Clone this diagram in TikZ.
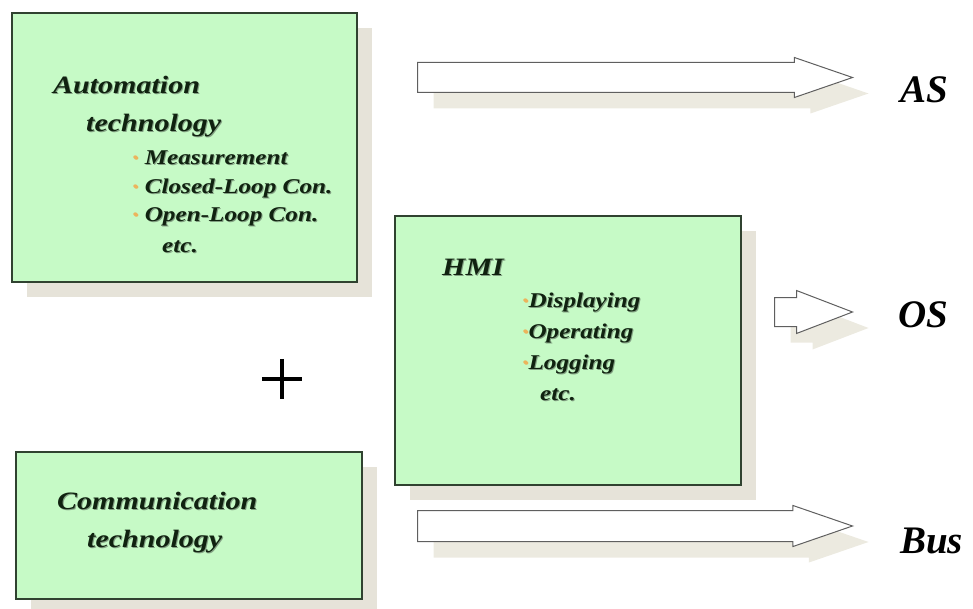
\documentclass[tikz,border=0pt]{standalone}
\usepackage{fontspec}
\setmainfont{Liberation Serif}
\newfontfamily\boxfont[FakeStretch=1.2]{Liberation Serif}
\usetikzlibrary{shapes.arrows,shadows}

\definecolor{boxfill}{RGB}{198,250,198}
\definecolor{boxline}{RGB}{48,66,48}
\definecolor{shade}{RGB}{230,227,217}
\definecolor{arrowshade}{RGB}{236,234,224}
\definecolor{arrowline}{RGB}{95,95,95}
\definecolor{ink}{RGB}{16,34,16}
\definecolor{inkshadow}{RGB}{130,160,130}
\definecolor{dot}{RGB}{236,180,92}

\newcommand{\bul}{{\color{dot}\textperiodcentered}}
% text with a soft offset shadow behind it
\newcommand{\shadowed}[1]{\rlap{\raisebox{-1pt}{\kern1pt\color{inkshadow}#1}}#1}

\tikzset{
  panel/.style={draw=boxline, line width=1.4pt, fill=boxfill, anchor=north west,
    inner sep=0pt, outer sep=0pt,
    drop shadow={shadow xshift=15pt, shadow yshift=-15pt, fill=shade, opacity=1}},
  headtext/.style={anchor=base west, inner sep=0pt, text=ink,
    font=\boxfont\bfseries\itshape\fontsize{25}{25}\selectfont},
  itemtext/.style={anchor=base west, inner sep=0pt, text=ink,
    font=\boxfont\bfseries\itshape\fontsize{21}{21}\selectfont},
  blockarrow/.style={single arrow, draw=arrowline, line width=1pt, fill=white,
    anchor=tail, inner xsep=0pt, single arrow head indent=0pt,
    drop shadow={shadow xshift=16pt, shadow yshift=-16pt, fill=arrowshade, opacity=1}},
  tag/.style={anchor=base west, inner sep=0pt, text=black,
    font=\bfseries\itshape\fontsize{39}{39}\selectfont},
}

\begin{document}
\begin{tikzpicture}[x=1pt, y=-1pt]
  \useasboundingbox (0,0) rectangle (973,609);

  % panels
  \node[panel, minimum width=345pt, minimum height=269pt] (auto) at (12,13) {};
  \node[panel, minimum width=346pt, minimum height=269pt] (hmi) at (395,216) {};
  \node[panel, minimum width=346pt, minimum height=147pt] (comm) at (16,452) {};

  % automation technology
  \node[headtext] (autoA) at (53,94) {\shadowed{Automation}};
  \node[headtext] (autoB) at (86,132) {\shadowed{technology}};
  \node[itemtext] (autoC) at (132,165) {\shadowed{\bul\ Measurement}};
  \node[itemtext] (autoD) at (132,194) {\shadowed{\bul\ Closed-Loop Con.}};
  \node[itemtext] (autoE) at (132,222) {\shadowed{\bul\ Open-Loop Con.}};
  \node[itemtext] (autoF) at (162,253) {\shadowed{etc.}};

  % human machine interface
  \node[headtext] (hmiA) at (442,276) {\shadowed{HMI}};
  \node[itemtext] (hmiB) at (522,307) {\shadowed{\bul Displaying}};
  \node[itemtext] (hmiC) at (522,338) {\shadowed{\bul Operating}};
  \node[itemtext] (hmiD) at (522,369) {\shadowed{\bul Logging}};
  \node[itemtext] (hmiE) at (540,400) {\shadowed{etc.}};

  % communication technology
  \node[headtext] (commA) at (57,509) {\shadowed{Communication}};
  \node[headtext] (commB) at (87,547) {\shadowed{technology}};

  % plus sign
  \node[minimum size=40pt, inner sep=0pt] (plus) at (282,379) {};
  \draw[line width=4pt] (plus.north) -- (plus.south) (plus.west) -- (plus.east);

  % block arrows
  \node[blockarrow, inner ysep=14.5pt, single arrow head extend=5pt,
        single arrow tip angle=38, minimum height=435pt] (arrAS) at (417,77.5) {};
  \node[blockarrow, inner ysep=14pt, single arrow head extend=7pt,
        single arrow tip angle=42, minimum height=78pt] (arrOS) at (774,312) {};
  \node[blockarrow, inner ysep=15pt, single arrow head extend=5pt,
        single arrow tip angle=38, minimum height=435pt] (arrBus) at (417,526) {};

  % system labels
  \node[tag] (AS) at (900,103) {AS};
  \node[tag] (OS) at (898,327) {OS};
  \node[tag] (Bus) at (900,553) {Bus};
\end{tikzpicture}
\end{document}
